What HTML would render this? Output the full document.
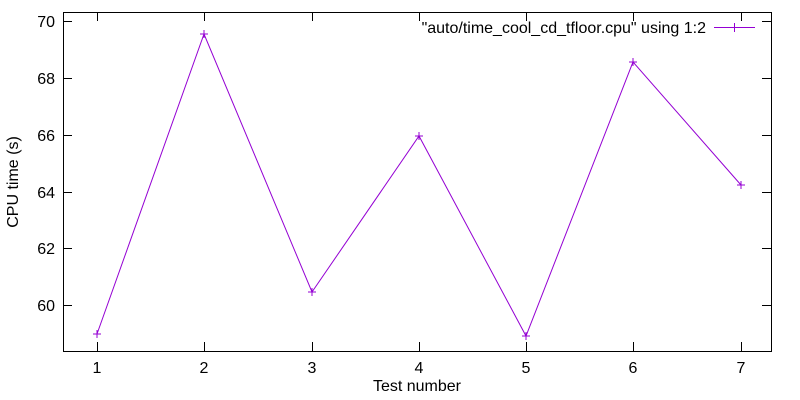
<!DOCTYPE html>
<html><head><style>body{margin:0;background:#fff}svg{display:block}</style></head><body>
<svg width="800" height="400" xmlns="http://www.w3.org/2000/svg" font-family="Liberation Sans, sans-serif" font-size="16">
<rect x="0" y="0" width="800" height="400" fill="#fff"/>
<g stroke="#000" stroke-width="1" fill="none">
<rect x="63.5" y="12.5" width="708" height="339"/>
<path d="M63 305.5h9M771 305.5h-9M63 248.5h9M771 248.5h-9M63 192.5h9M771 192.5h-9M63 135.5h9M771 135.5h-9M63 78.5h9M771 78.5h-9M63 21.5h9M771 21.5h-9"/>
<path d="M97.5 351v-9M97.5 12v9M204.5 351v-9M204.5 12v9M312.5 351v-9M312.5 12v9M419.5 351v-9M419.5 12v9M526.5 351v-9M526.5 12v9M633.5 351v-9M633.5 12v9M741.5 351v-9M741.5 12v9"/>
</g>
<g text-anchor="end" fill="#000">
<text x="55" y="311">60</text><text x="55" y="254">62</text><text x="55" y="198">64</text><text x="55" y="141">66</text><text x="55" y="84">68</text><text x="55" y="27">70</text>
</g>
<g text-anchor="middle" fill="#000">
<text x="97" y="373">1</text><text x="204" y="373">2</text><text x="312" y="373">3</text><text x="419" y="373">4</text><text x="526" y="373">5</text><text x="633" y="373">6</text><text x="741" y="373">7</text>
<text x="417" y="391">Test number</text>
<text transform="translate(18,182) rotate(-90)">CPU time (s)</text>
</g>
<text x="706" y="33" text-anchor="end">"auto/time_cool_cd_tfloor.cpu" using 1:2</text>
<g stroke="#9400d3" stroke-width="1" fill="none">
<path d="M714 27.5h41M734.5 23v9M730 27.5h9"/>
<polyline points="97,334 204,34 312,292 419,136 526,336 633,62 741,185"/>
<path d="M97 330v8M93 334h8M204 30v8M200 34h8M312 288v8M308 292h8M419 132v8M415 136h8M526 332v8M522 336h8M633 58v8M629 62h8M741 181v8M737 185h8"/>
</g>
</svg>
</body></html>
